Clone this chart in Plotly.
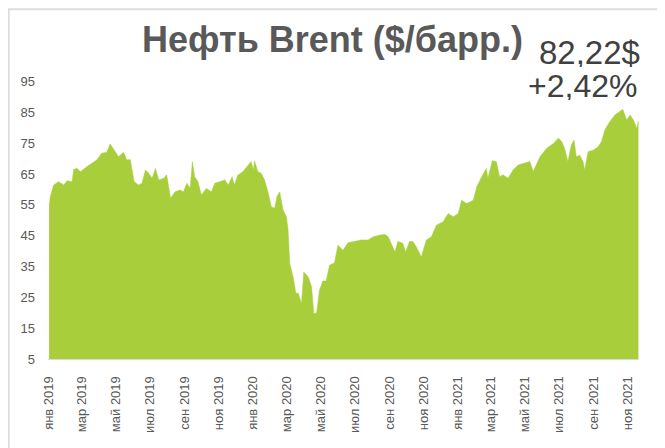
import plotly.graph_objects as go

# Brent daily-ish closes
dates = [
    "2019-01-02", "2019-01-04", "2019-01-10", "2019-01-19", "2019-01-28", "2019-02-03",
    "2019-02-12", "2019-02-15", "2019-02-21", "2019-02-27", "2019-03-10", "2019-03-19",
    "2019-03-28", "2019-04-06", "2019-04-15", "2019-04-21", "2019-04-30", "2019-05-06",
    "2019-05-15", "2019-05-21", "2019-05-27", "2019-05-30", "2019-06-03", "2019-06-11",
    "2019-06-17", "2019-06-23", "2019-06-29", "2019-07-05", "2019-07-11", "2019-07-17",
    "2019-07-26", "2019-07-31", "2019-08-07", "2019-08-15", "2019-08-24", "2019-08-30",
    "2019-09-05", "2019-09-11", "2019-09-15", "2019-09-19", "2019-09-25", "2019-10-01",
    "2019-10-10", "2019-10-19", "2019-10-25", "2019-11-03", "2019-11-12", "2019-11-18",
    "2019-11-25", "2019-11-29", "2019-12-05", "2019-12-14", "2019-12-23", "2019-12-29",
    "2020-01-02", "2020-01-04", "2020-01-10", "2020-01-16", "2020-01-22", "2020-01-28",
    "2020-02-03", "2020-02-09", "2020-02-13", "2020-02-18", "2020-02-24", "2020-03-01",
    "2020-03-04", "2020-03-07", "2020-03-13", "2020-03-18", "2020-03-22", "2020-03-28",
    "2020-04-01", "2020-04-09", "2020-04-15", "2020-04-19", "2020-04-24", "2020-04-29",
    "2020-05-05", "2020-05-11", "2020-05-17", "2020-05-26", "2020-06-01", "2020-06-10",
    "2020-06-19", "2020-07-01", "2020-07-13", "2020-07-25", "2020-08-03", "2020-08-15",
    "2020-08-24", "2020-08-30", "2020-09-05", "2020-09-11", "2020-09-16", "2020-09-25",
    "2020-09-30", "2020-10-07", "2020-10-13", "2020-10-19", "2020-10-28", "2020-11-06",
    "2020-11-15", "2020-11-24", "2020-12-06", "2020-12-15", "2020-12-24", "2021-01-02",
    "2021-01-08", "2021-01-17", "2021-01-29", "2021-02-04", "2021-02-13", "2021-02-21",
    "2021-02-24", "2021-03-04", "2021-03-11", "2021-03-17", "2021-03-23", "2021-04-01",
    "2021-04-10", "2021-04-19", "2021-04-28", "2021-05-10", "2021-05-16", "2021-05-28",
    "2021-06-09", "2021-06-21", "2021-06-30", "2021-07-06", "2021-07-11", "2021-07-17",
    "2021-07-23", "2021-07-28", "2021-08-01", "2021-08-07", "2021-08-13", "2021-08-16",
    "2021-08-22", "2021-08-31", "2021-09-09", "2021-09-15", "2021-09-21", "2021-09-30",
    "2021-10-09", "2021-10-18", "2021-10-23", "2021-10-30", "2021-11-05", "2021-11-11",
    "2021-11-17", "2021-11-20",
]
prices = [
    54.4, 57.6, 61.4, 62.5, 61.4, 62.8,
    62.5, 66.5, 66.8, 65.7, 67.3, 68.4,
    69.5, 71.7, 72.0, 74.7, 72.0, 70.6,
    72.0, 69.5, 69.7, 66.3, 62.5, 61.4,
    62.0, 66.3, 65.2, 63.6, 66.8, 63.0,
    63.6, 64.7, 57.1, 59.2, 59.8, 59.2,
    62.0, 60.4, 69.0, 64.1, 62.5, 58.2,
    60.3, 59.2, 62.0, 62.5, 63.1, 61.4,
    64.1, 61.4, 64.6, 65.7, 67.9, 69.0,
    66.3, 69.3, 65.7, 65.2, 63.0, 59.2,
    54.4, 53.9, 57.6, 59.2, 53.3, 51.1,
    46.8, 36.0, 31.6, 26.2, 26.4, 23.0,
    33.2, 31.6, 28.4, 19.7, 20.0, 27.3,
    30.3, 30.3, 35.4, 36.2, 41.9, 40.3,
    42.7, 43.1, 43.6, 43.6, 44.6, 45.2,
    45.4, 44.6, 41.9, 39.7, 43.1, 42.5,
    39.7, 43.1, 43.1, 41.4, 38.1, 43.6,
    44.6, 48.4, 49.5, 52.2, 51.1, 52.2,
    56.5, 55.4, 56.5, 60.8, 64.1, 66.8,
    63.6, 69.3, 69.0, 64.1, 64.7, 63.6,
    66.3, 67.9, 68.4, 69.0, 65.8, 70.6,
    73.3, 74.9, 76.6, 75.5, 73.3, 69.0,
    74.4, 76.0, 70.6, 71.1, 69.0, 66.3,
    72.2, 72.7, 73.8, 75.5, 79.3, 82.0,
    84.1, 85.5, 86.0, 82.5, 84.1, 82.5,
    79.8, 82.2,
]

tick_dates = [
    "2019-01-01", "2019-03-01", "2019-05-01", "2019-07-01", "2019-09-01", "2019-11-01",
    "2020-01-01", "2020-03-01", "2020-05-01", "2020-07-01", "2020-09-01", "2020-11-01",
    "2021-01-01", "2021-03-01", "2021-05-01", "2021-07-01", "2021-09-01", "2021-11-01",
]
tick_labels = [
    "янв 2019", "мар 2019", "май 2019", "июл 2019", "сен 2019", "ноя 2019",
    "янв 2020", "мар 2020", "май 2020", "июл 2020", "сен 2020", "ноя 2020",
    "янв 2021", "мар 2021", "май 2021", "июл 2021", "сен 2021", "ноя 2021",
]
y_ticks = [5, 15, 25, 35, 45, 55, 65, 75, 85, 95]

title_text = "Нефть Brent ($/барр.)"
last_price_text = "82,22$"
change_text = "+2,42%"

GREEN = "#A8CE3B"
GREY = "#595959"
FONT = "Liberation Sans, Arial, sans-serif"

fig = go.Figure(
    go.Scatter(
        x=dates, y=prices, mode="lines",
        line=dict(width=0.5, color=GREEN),
        fill="tozeroy", fillcolor=GREEN,
        hoverinfo="skip", showlegend=False,
    )
)

fig.update_layout(
    width=657, height=440,
    margin=dict(l=40, r=26, t=58, b=89),
    paper_bgcolor="white", plot_bgcolor="white",
    font=dict(family=FONT, color=GREY),
    xaxis=dict(
        type="date", range=["2018-12-31", "2021-11-21"],
        tickvals=tick_dates, ticktext=tick_labels, tickangle=-90,
        tickfont=dict(size=13, color=GREY, family=FONT),
        showgrid=False, zeroline=False,
        showline=True, linecolor="#D9D9D9", linewidth=1,
        ticks="", ticklabelstandoff=11,
    ),
    yaxis=dict(
        range=[5, 100], tickvals=y_ticks,
        tickfont=dict(size=13, color=GREY, family=FONT),
        showgrid=False, zeroline=False, showline=False,
        ticks="", ticklabelstandoff=12,
    ),
    annotations=[
        dict(text="<b>" + title_text + "</b>", xref="paper", yref="paper",
             x=0.482, y=1.089, xanchor="center", yanchor="middle", showarrow=False,
             font=dict(size=36, color=GREY, family=FONT)),
        dict(text=last_price_text, xref="paper", yref="paper",
             x=1.0034, y=1.045, xanchor="right", yanchor="middle", showarrow=False,
             height=29, borderpad=0, valign="middle",
             font=dict(size=33, color="#404040", family=FONT)),
        dict(text=change_text, xref="paper", yref="paper",
             x=0.998, y=0.935, xanchor="right", yanchor="middle", showarrow=False,
             height=29, borderpad=0, valign="middle",
             font=dict(size=32, color="#404040", family=FONT)),
    ],
    shapes=[
        dict(type="rect", xref="paper", yref="paper",
             x0=-0.0665, x1=1.0338, y0=-0.40, y1=1.194,
             line=dict(color="#DDDDDD", width=2), fillcolor="rgba(0,0,0,0)", layer="below"),
    ],
)

fig.write_html("out.html")
